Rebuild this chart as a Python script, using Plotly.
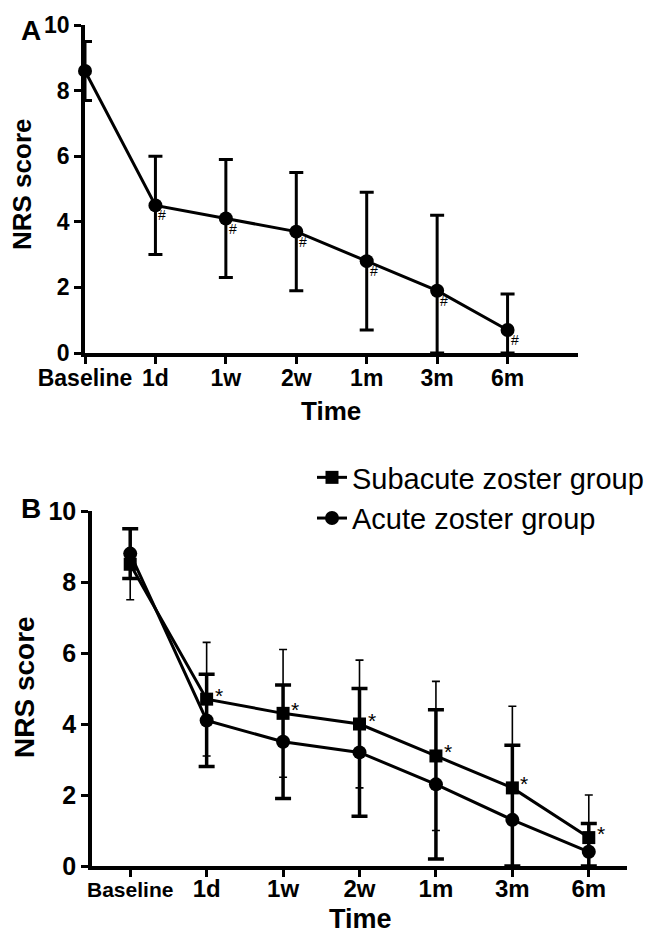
import numpy as np
import plotly.graph_objects as go

# ---------------- data ----------------
time_labels = ["Baseline", "1d", "1w", "2w", "1m", "3m", "6m"]

a_mean = [8.6, 4.5, 4.1, 3.7, 2.8, 1.9, 0.7]
a_sd = [0.9, 1.5, 1.8, 1.8, 2.1, 2.3, 1.1]

sub_mean = [8.5, 4.7, 4.3, 4.0, 3.1, 2.2, 0.8]
sub_sd = [1.0, 1.6, 1.8, 1.8, 2.1, 2.3, 1.2]

acute_mean = [8.8, 4.1, 3.5, 3.2, 2.3, 1.3, 0.4]
acute_sd = [0.7, 1.3, 1.6, 1.8, 2.1, 2.1, 0.8]

y_ticks = [0, 2, 4, 6, 8, 10]

W, H = 651, 937
x_idx = list(range(len(time_labels)))

ARIAL = "Liberation Sans, Arial, sans-serif"


def clip_minus(mean, sd):
    return list(np.minimum(np.array(sd), np.array(mean)))


fig = go.Figure()

# ---------------- Panel A ----------------
fig.add_trace(go.Scatter(
    x=x_idx, y=a_mean, mode="lines+markers",
    line=dict(color="black", width=3),
    marker=dict(symbol="circle", size=14, color="black"),
    error_y=dict(type="data", array=a_sd, arrayminus=clip_minus(a_mean, a_sd),
                 color="black", thickness=3, width=7, symmetric=False),
    cliponaxis=False, showlegend=False, xaxis="x", yaxis="y",
))

# ---------------- Panel B ----------------
fig.add_trace(go.Scatter(
    x=x_idx, y=acute_mean, mode="lines+markers", name="Acute zoster group",
    line=dict(color="black", width=3),
    marker=dict(symbol="circle", size=14, color="black"),
    error_y=dict(type="data", array=acute_sd, arrayminus=clip_minus(acute_mean, acute_sd),
                 color="black", thickness=3.5, width=8, symmetric=False),
    cliponaxis=False, xaxis="x2", yaxis="y2", legendrank=2,
))
fig.add_trace(go.Scatter(
    x=x_idx, y=sub_mean, mode="lines+markers", name="Subacute zoster group",
    line=dict(color="black", width=3),
    marker=dict(symbol="square", size=13, color="black"),
    error_y=dict(type="data", array=sub_sd, arrayminus=clip_minus(sub_mean, sub_sd),
                 color="black", thickness=1.6, width=4, symmetric=False),
    cliponaxis=False, xaxis="x2", yaxis="y2", legendrank=1,
))

# ---------------- axes ----------------
axA_x = [85 / W, 578 / W]
axA_y = [1 - 353 / H, 1 - 25 / H]
axB_x = [92 / W, 627 / W]
axB_y = [1 - 866 / H, 1 - 511 / H]

common_axis = dict(showgrid=False, zeroline=False, showline=True, linecolor="black",
                   linewidth=3.5, ticks="outside", ticklen=7, tickwidth=3,
                   tickcolor="black", automargin=False, fixedrange=True, tickangle=0)

fig.update_layout(
    xaxis=dict(domain=axA_x, range=[0, 7], tickvals=x_idx, ticktext=time_labels,
               tickfont=dict(family=ARIAL, size=23, color="black", weight="bold"),
               ticklabelstandoff=-5, anchor="y", **common_axis),
    yaxis=dict(domain=axA_y, range=[0, 10], tickvals=y_ticks,
               tickfont=dict(family=ARIAL, size=23, color="black", weight="bold"),
               anchor="x", **common_axis),
    xaxis2=dict(domain=axB_x, range=[-0.5, 6.5], tickvals=x_idx,
                ticktext=['<span style="font-size:21px">Baseline</span>'] + time_labels[1:],
                tickfont=dict(family=ARIAL, size=24, color="black", weight="bold"),
                ticklabelstandoff=-9, anchor="y2", **common_axis),
    yaxis2=dict(domain=axB_y, range=[0, 10], tickvals=y_ticks,
                tickfont=dict(family=ARIAL, size=25, color="black", weight="bold"),
                anchor="x2", **common_axis),
)

# ---------------- annotations ----------------
ann = []
# '#' markers in panel A
for xi, yi in zip(x_idx[1:], a_mean[1:]):
    ann.append(dict(x=xi, y=yi, xref="x", yref="y", text="#", showarrow=False,
                    xshift=7, yshift=-10, font=dict(family=ARIAL, size=14, color="black")))
# '*' markers in panel B
for xi, yi in zip(x_idx[1:], sub_mean[1:]):
    ann.append(dict(x=xi, y=yi, xref="x2", yref="y2", text="*", showarrow=False,
                    xshift=12, yshift=4, font=dict(family=ARIAL, size=21, color="black")))


def label(x, y, text, size, angle=0):
    return dict(x=x / W, y=1 - y / H, xref="paper", yref="paper", text=text,
                showarrow=False, textangle=angle, xanchor="center", yanchor="middle",
                font=dict(family=ARIAL, size=size, color="black"))


# panel letters and axis titles
ann += [
    label(31, 30, "<b>A</b>", 28),
    label(31, 508, "<b>B</b>", 28),
    label(22, 184, "<b>NRS score</b>", 26, -90),
    label(24, 687, "<b>NRS score</b>", 28, -90),
    label(331, 411, "<b>Time</b>", 26),
    label(360, 919, "<b>Time</b>", 27),
]

fig.update_layout(
    width=W, height=H, margin=dict(l=0, r=0, t=0, b=0),
    paper_bgcolor="white", plot_bgcolor="white",
    annotations=ann,
    legend=dict(x=312 / W, y=1 - 452 / H, xanchor="left", yanchor="top",
                font=dict(family=ARIAL, size=29, color="black"),
                bgcolor="rgba(0,0,0,0)", borderwidth=0, tracegroupgap=0),
    showlegend=True,
)

fig.write_html("out.html")
